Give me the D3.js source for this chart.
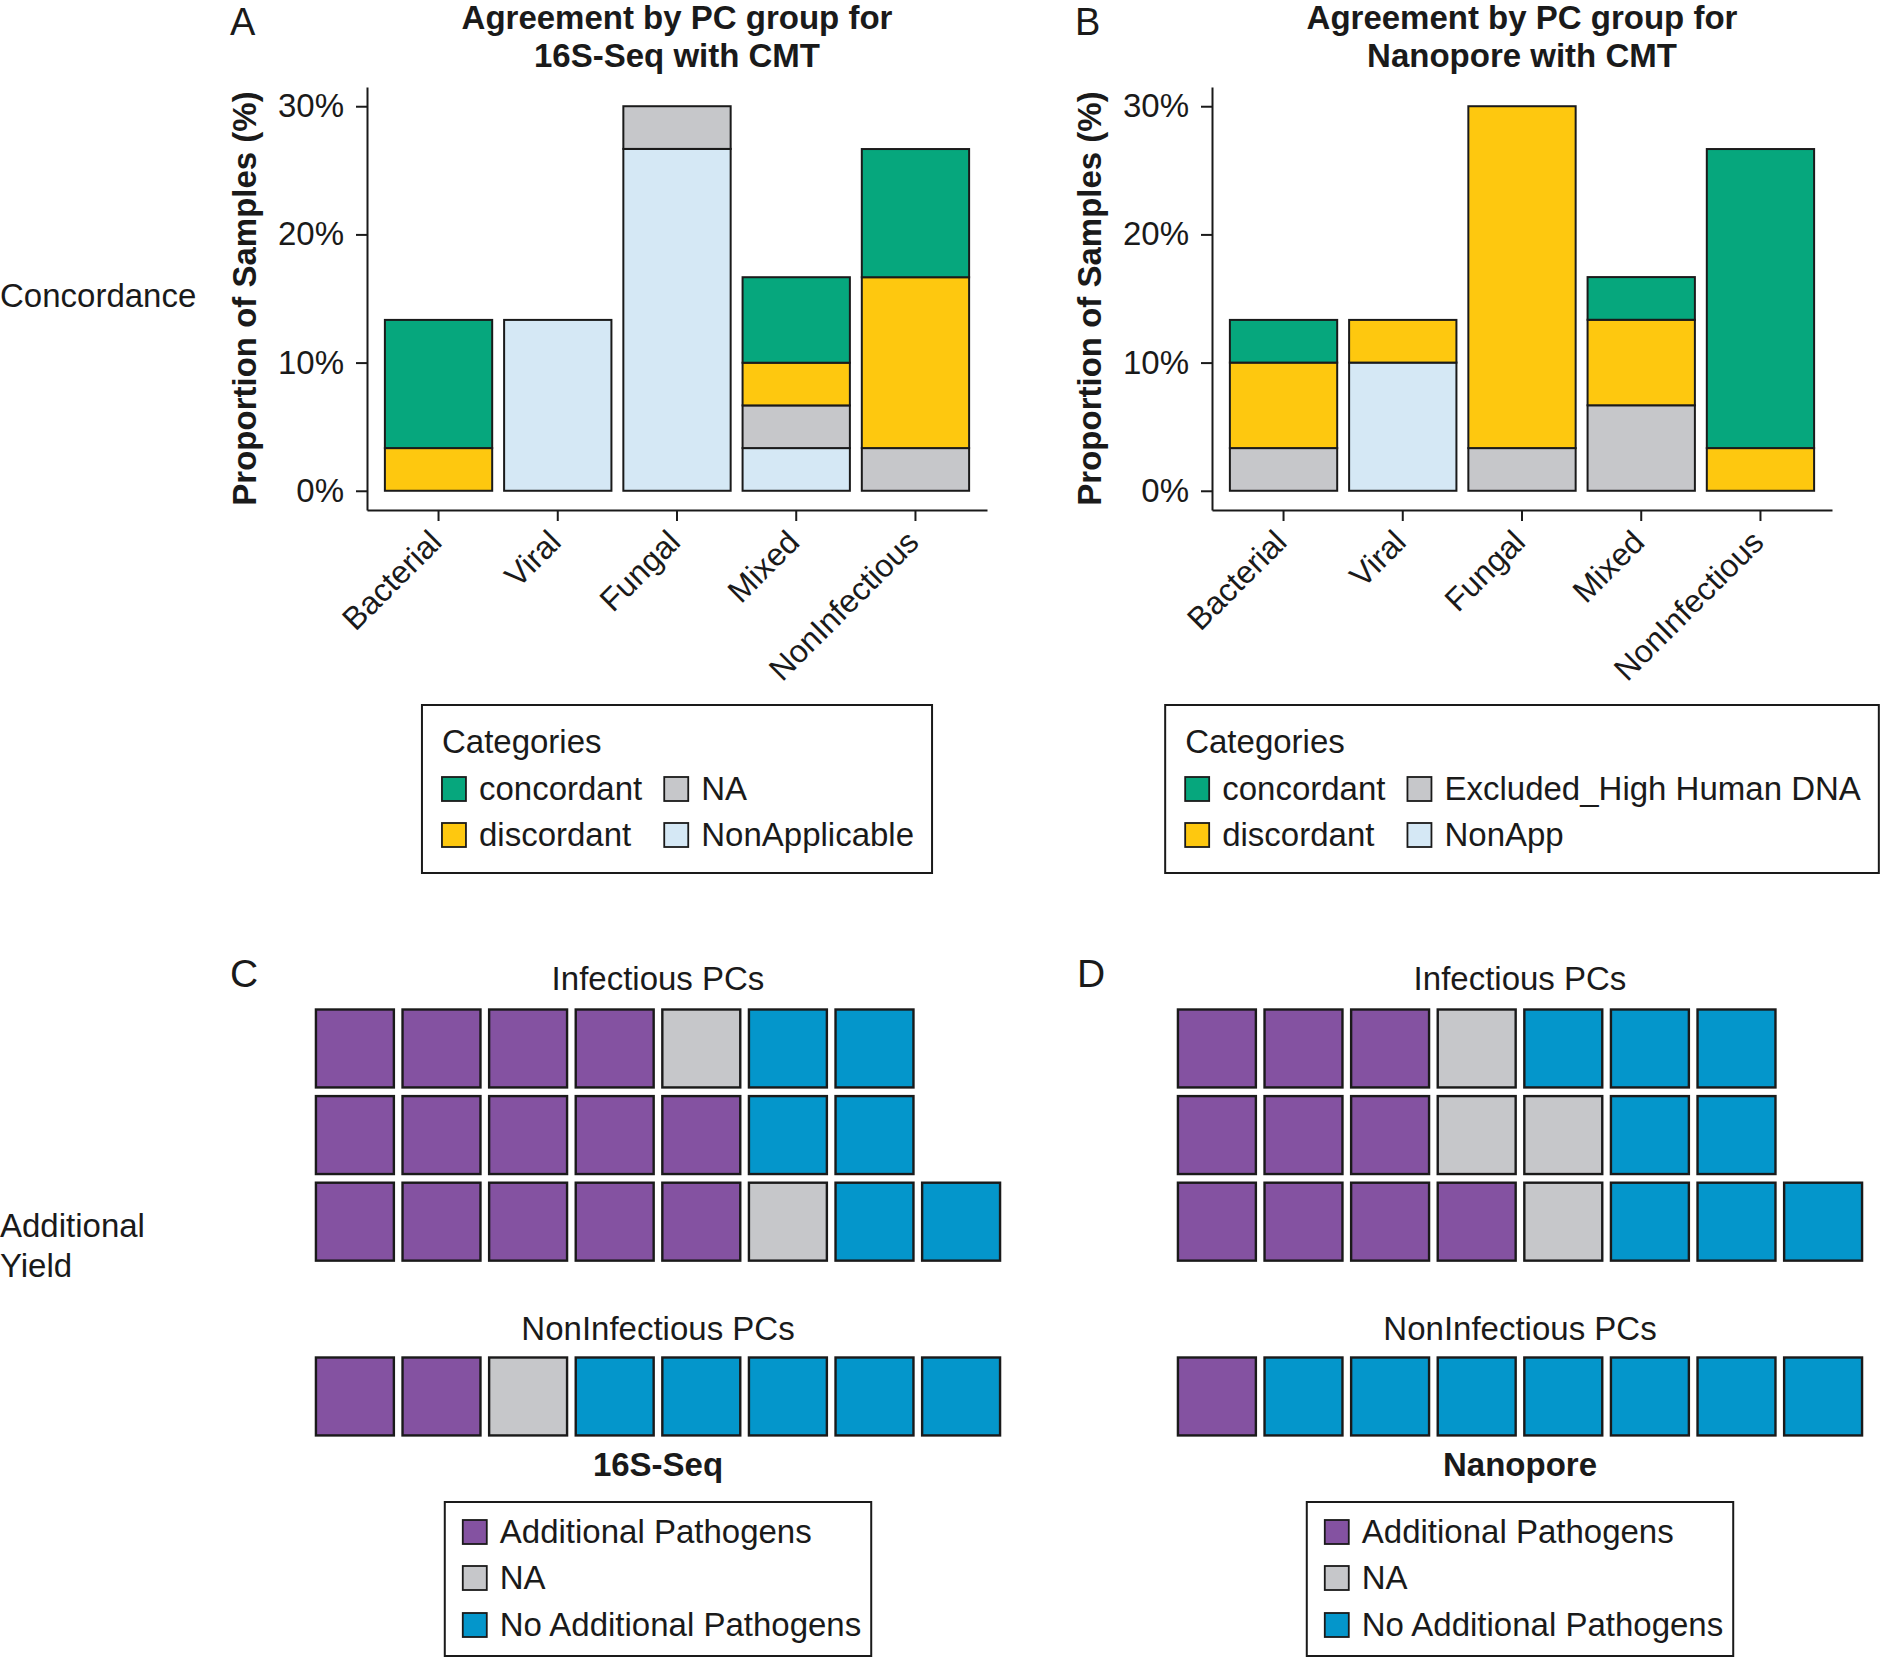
<!DOCTYPE html>
<html>
<head>
<meta charset="utf-8">
<script src="https://cdn.jsdelivr.net/npm/d3@7"></script>
<style>
  body { margin: 0; background: #fff; }
  text { font-family: "Liberation Sans", Arial, sans-serif; font-size: 33px; fill: #1a1a1a; }
</style>
</head>
<body>
<svg id="fig" width="1882" height="1657"></svg>
<script>
// PC groups on the x axis
const groups = ['Bacterial', 'Viral', 'Fungal', 'Mixed', 'NonInfectious'];
const yTicks = [0, 10, 20, 30];

// 16S-Seq vs CMT, proportion of samples (%)
const seqCategories = ['concordant', 'discordant', 'NA', 'NonApplicable'];
const seqConcordant = [10, 0, 0, 6.67, 10];
const seqDiscordant = [3.33, 0, 0, 3.33, 13.33];
const seqNA = [0, 0, 3.33, 3.33, 3.33];
const seqNonApplicable = [0, 13.33, 26.67, 3.33, 0];

// Nanopore vs CMT, proportion of samples (%)
const napCategories = ['concordant', 'discordant', 'Excluded_High Human DNA', 'NonApp'];
const napConcordant = [3.33, 0, 0, 3.33, 23.33];
const napDiscordant = [6.67, 3.33, 26.67, 6.67, 3.33];
const napExcluded = [3.33, 0, 3.33, 6.67, 0];
const napNonApp = [0, 10, 0, 0, 0];

// additional yield, number of PCs per category
const yieldCategories = ['Additional Pathogens', 'NA', 'No Additional Pathogens'];
const seqInfectious = [14, 2, 6];
const seqNonInfectious = [2, 1, 5];
const napInfectious = [10, 4, 8];
const napNonInfectious = [1, 0, 7];

const concordColors = ['#06a77d', '#fec80f', '#c6c7ca', '#d5e8f5'];
const yieldColors = ['#8452a1', '#c6c7ca', '#0496cb'];
const ink = '#1a1a1a';

const svg = d3.select('#fig');
svg.append('rect').attr('width', 1882).attr('height', 1657).attr('fill', '#fff');

function drawLegend(g, o) {
  const box = g.append('rect')
    .attr('y', o.top).attr('height', o.height)
    .attr('fill', '#fff').attr('stroke', ink).attr('stroke-width', 2);
  const inner = g.append('g');
  if (o.title) inner.append('text').attr('x', 0).attr('y', o.top + 48).text(o.title);
  let x = 0;
  o.columns.forEach((col, ci) => {
    let maxW = 0;
    col.forEach((item, ri) => {
      const base = o.top + o.rowBase[ri];
      inner.append('rect')
        .attr('x', x).attr('y', base - 23).attr('width', 24).attr('height', 24)
        .attr('fill', item.color).attr('stroke', ink).attr('stroke-width', 1.8);
      const t = inner.append('text').attr('x', x + 37).attr('y', base).text(item.label);
      maxW = Math.max(maxW, t.node().getComputedTextLength());
    });
    x += 37 + maxW + (ci < o.columns.length - 1 ? 22 : 0);
  });
  const w = o.padL + x + o.padR;
  const left = o.cx - w / 2;
  box.attr('x', left).attr('width', w);
  inner.attr('transform', `translate(${left + o.padL},0)`);
}

function concordancePanel(cfg) {
  const g = svg.append('g');
  const x = d3.scaleBand().domain(groups)
    .range([cfg.left, cfg.left + 620])
    .paddingInner(0.1).paddingOuter(0.15);
  const y = d3.scaleLinear().domain([-1.5, 31.5]).range([510, 87]);
  const cx = cfg.left + 310;

  const table = groups.map((grp, i) => {
    const row = { group: grp };
    cfg.keys.forEach((k, j) => row[k] = cfg.series[j][i]);
    return row;
  });
  const color = d3.scaleOrdinal().domain(cfg.keys).range(concordColors);
  const stacked = d3.stack().keys(cfg.keys.slice().reverse())(table);

  g.selectAll('g.layer').data(stacked).join('g')
    .attr('class', 'layer')
    .attr('fill', d => color(d.key))
    .selectAll('rect')
    .data(d => d.filter(s => s[1] - s[0] > 0))
    .join('rect')
    .attr('x', d => x(d.data.group))
    .attr('width', x.bandwidth())
    .attr('y', d => y(d[1]))
    .attr('height', d => y(d[0]) - y(d[1]))
    .attr('stroke', ink).attr('stroke-width', 2);

  const yAxis = g.append('g')
    .attr('transform', `translate(${cfg.left},0)`)
    .call(d3.axisLeft(y).tickValues(yTicks).tickFormat(d => d + '%')
      .tickSize(11).tickSizeOuter(0).tickPadding(12));

  const xAxis = g.append('g')
    .attr('transform', 'translate(0,510)')
    .call(d3.axisBottom(x).tickSize(11).tickSizeOuter(0));
  xAxis.selectAll('text')
    .attr('x', 0).attr('y', 0).attr('dy', '0.71em')
    .attr('text-anchor', 'end')
    .style('font-size', '32px')
    .attr('transform', 'translate(-11,18) rotate(-45)');

  [yAxis, xAxis].forEach(a => {
    a.attr('font-size', null).attr('font-family', null);
    a.selectAll('path, line').attr('stroke', ink).attr('stroke-width', 2);
    a.selectAll('text').attr('fill', ink);
  });

  g.append('text')
    .attr('transform', `translate(${cfg.left - 111},298.5) rotate(-90)`)
    .attr('text-anchor', 'middle').attr('font-weight', 'bold')
    .text('Proportion of Samples (%)');

  cfg.title.forEach((line, i) => {
    g.append('text').attr('x', cx).attr('y', 29 + i * 38)
      .attr('text-anchor', 'middle').attr('font-weight', 'bold').text(line);
  });
  g.append('text').attr('x', cfg.left - 137).attr('y', 35)
    .style('font-size', '38px').text(cfg.tag);

  const items = cfg.keys.map((k, i) => ({ label: k, color: concordColors[i] }));
  drawLegend(g, {
    cx, top: 705, height: 168, title: 'Categories',
    columns: [items.slice(0, 2), items.slice(2)],
    rowBase: [95, 141], padL: 20, padR: 18
  });
}

function waffleRow(g, x, top, step, counts, nrows) {
  const tiles = counts.flatMap((n, k) => d3.range(n).map(() => k));
  const y = d3.scaleBand().domain(d3.range(nrows))
    .range([top - 0.05 * step, top - 0.05 * step + nrows * step])
    .paddingInner(0.1).paddingOuter(0.05);
  g.append('g').selectAll('rect').data(tiles).join('rect')
    .attr('x', (d, i) => x(Math.floor(i / nrows)))
    .attr('y', (d, i) => y(nrows - 1 - (i % nrows)))
    .attr('width', x.bandwidth()).attr('height', y.bandwidth())
    .attr('fill', d => yieldColors[d])
    .attr('stroke', ink).attr('stroke-width', 2.4);
}

function yieldPanel(cfg) {
  const g = svg.append('g');
  const step = 86.6;
  const x = d3.scaleBand().domain(d3.range(8))
    .range([cfg.cx - 4 * step, cfg.cx + 4 * step])
    .paddingInner(0.1).paddingOuter(0.05);

  g.append('text').attr('x', cfg.tagX).attr('y', 987)
    .style('font-size', '39px').text(cfg.tag);
  g.append('text').attr('x', cfg.cx).attr('y', 990).attr('text-anchor', 'middle').text('Infectious PCs');
  waffleRow(g, x, 1009.5, step, cfg.infectious, 3);

  g.append('text').attr('x', cfg.cx).attr('y', 1340).attr('text-anchor', 'middle').text('NonInfectious PCs');
  waffleRow(g, x, 1357.5, step, cfg.nonInfectious, 1);

  g.append('text').attr('x', cfg.cx).attr('y', 1476).attr('text-anchor', 'middle')
    .attr('font-weight', 'bold').text(cfg.method);

  const items = yieldCategories.map((k, i) => ({ label: k, color: yieldColors[i] }));
  drawLegend(g, {
    cx: cfg.cx, top: 1502, height: 154, title: null,
    columns: [items], rowBase: [41, 87, 134], padL: 18, padR: 10
  });
}

concordancePanel({
  left: 367, tag: 'A',
  title: ['Agreement by PC group for', '16S-Seq with CMT'],
  keys: seqCategories,
  series: [seqConcordant, seqDiscordant, seqNA, seqNonApplicable]
});
concordancePanel({
  left: 1212, tag: 'B',
  title: ['Agreement by PC group for', 'Nanopore with CMT'],
  keys: napCategories,
  series: [napConcordant, napDiscordant, napExcluded, napNonApp]
});

yieldPanel({ cx: 658, tag: 'C', tagX: 230, method: '16S-Seq', infectious: seqInfectious, nonInfectious: seqNonInfectious });
yieldPanel({ cx: 1520, tag: 'D', tagX: 1077, method: 'Nanopore', infectious: napInfectious, nonInfectious: napNonInfectious });

svg.append('text').attr('x', 0).attr('y', 307).text('Concordance');
svg.append('text').attr('x', 0).attr('y', 1237).text('Additional');
svg.append('text').attr('x', 0).attr('y', 1277).text('Yield');
</script>
</body>
</html>
